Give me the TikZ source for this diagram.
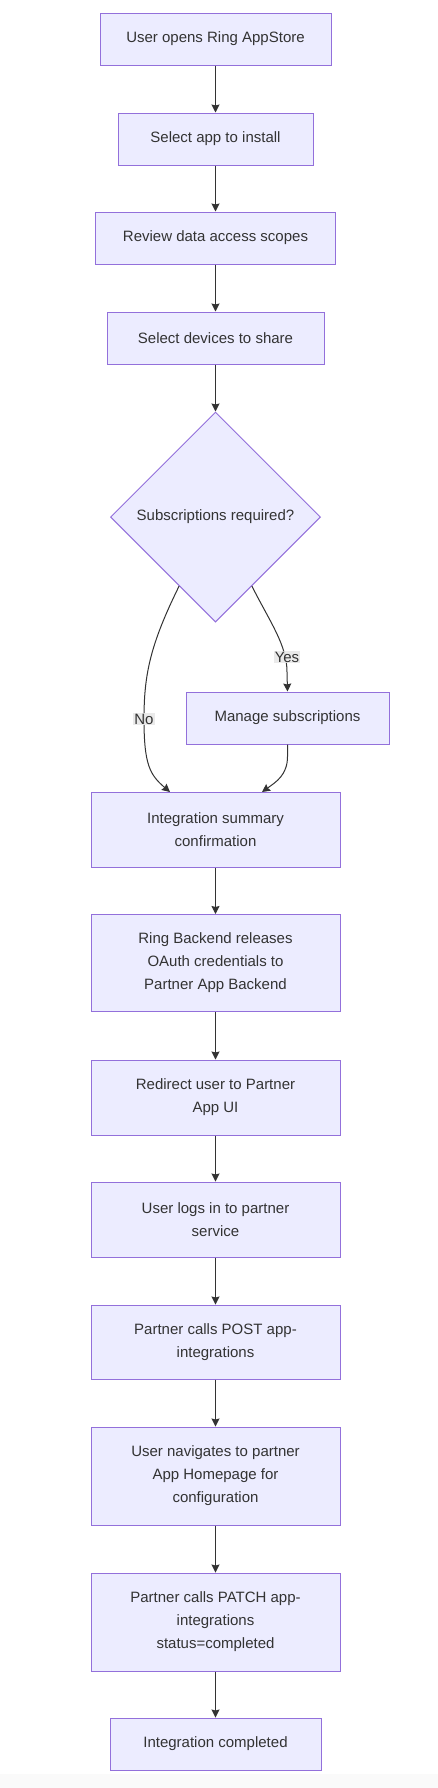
\documentclass[tikz,border=0pt]{standalone}
\usepackage{fontspec}
\setmainfont{Liberation Sans}
\usetikzlibrary{shapes.geometric,arrows.meta,calc}
\definecolor{nodefill}{HTML}{ECECFF}
\definecolor{nodeline}{HTML}{9370DB}
\definecolor{edgecol}{HTML}{333333}
\definecolor{lblbg}{HTML}{E8E8E8}
\begin{document}
\begin{tikzpicture}[x=1pt,y=-1pt,
  txt/.style={text=edgecol, font=\fontsize{15}{23}\selectfont, align=center},
  box/.style n args={2}{txt, draw=nodeline, fill=nodefill, line width=1pt,
    minimum width=#1, minimum height=#2, inner sep=0pt},
  decision/.style={txt, diamond, draw=nodeline, fill=nodefill, line width=1pt,
    minimum width=210pt, minimum height=210pt, inner sep=0pt},
  arr/.style={draw=edgecol, line width=1pt, -{Stealth[length=8pt,width=8pt,inset=1pt]}},
  elabel/.style={txt, fill=lblbg, fill opacity=0.9, text opacity=1, inner sep=1pt}]
\useasboundingbox (0,0) rectangle (438,1788);
\fill[white] (0,0) rectangle (438,1788);
\fill[black!2] (0,1774) rectangle (438,1788);

\node[box={231pt}{52pt}] (n1) at (215.5,39) {User opens Ring AppStore};
\node[box={195pt}{52pt}] (n2) at (215.5,139) {Select app to install};
\node[box={240pt}{52pt}] (n3) at (215.5,238) {Review data access scopes};
\node[box={217pt}{52pt}] (n4) at (215.5,338) {Select devices to share};
\node[decision] (dec) at (215.5,517) {Subscriptions required?};
\node[box={203pt}{52pt}] (man) at (287.5,718) {Manage subscriptions};
\node[box={249pt}{75pt}] (sum) at (215.5,830) {Integration summary\\confirmation};
\node[box={249pt}{97pt}] (ring) at (215.5,963) {Ring Backend releases\\OAuth credentials to\\Partner App Backend};
\node[box={249pt}{75pt}] (redir) at (215.5,1097.5) {Redirect user to Partner\\App UI};
\node[box={249pt}{75pt}] (login) at (215.5,1219.5) {User logs in to partner\\service};
\node[box={249pt}{74pt}] (post) at (215.5,1342) {Partner calls POST app-\\integrations};
\node[box={249pt}{98pt}] (nav) at (215.5,1476) {User navigates to partner\\App Homepage for\\configuration};
\node[box={249pt}{98pt}] (patch) at (215.5,1622) {Partner calls PATCH app-\\integrations\\status=completed};
\node[box={211pt}{52pt}] (done) at (215.5,1744) {Integration completed};

\draw[arr] (n1) -- (n2);
\draw[arr] (n2) -- (n3);
\draw[arr] (n3) -- (n4);
\draw[arr] (n4) -- (dec);

\coordinate (noS) at ($(dec.south west)!0.31!(dec.south)$);
\coordinate (yesS) at ($(dec.south east)!0.31!(dec.south)$);
\coordinate (noE) at ($(sum.north)+(-45.5,0)$);
\coordinate (manE) at ($(sum.north)+(46.5,0)$);

\draw[arr] (noS) .. controls (150,645) and (144,675) .. (144,719)
  .. controls (144,765) and (150,775) .. (noE);
\draw[arr] (yesS) .. controls (270,622) and (287,645) .. (287,672) -- (man.north);
\draw[arr] (man.south) -- ++(0,12) .. controls (287.5,775) and (276,782) .. (manE);

\node[elabel] (lno) at (144,719) {No};
\node[elabel] (lyes) at (287,657) {Yes};

\draw[arr] (sum) -- (ring);
\draw[arr] (ring) -- (redir);
\draw[arr] (redir) -- (login);
\draw[arr] (login) -- (post);
\draw[arr] (post) -- (nav);
\draw[arr] (nav) -- (patch);
\draw[arr] (patch) -- (done);
\end{tikzpicture}
\end{document}
